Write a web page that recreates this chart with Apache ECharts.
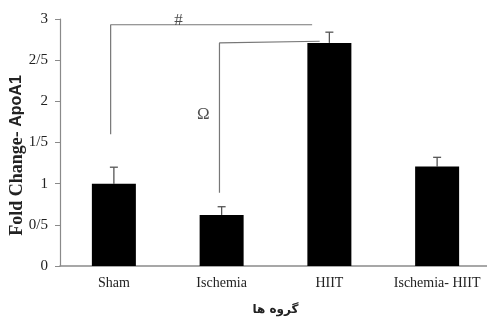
<!DOCTYPE html>
<html><head><meta charset="utf-8">
<script src="https://cdn.jsdelivr.net/npm/echarts@6/dist/echarts.min.js"></script>
<style>html,body{margin:0;padding:0;background:#fff}#c{width:487px;height:317px}</style>
</head><body><div id="c"></div>
<script>
const categories = ['Sham', 'Ischemia', 'HIIT', 'Ischemia- HIIT'];
const values = [1.0, 0.62, 2.71, 1.21];
const errors = [0.2, 0.1, 0.13, 0.11];
const yTickLabels = {0: '0', 0.5: '0/5', 1: '1', 1.5: '1/5', 2: '2', 2.5: '2/5', 3: '3'};
// significance brackets in (category position, value) space
const bracketHash = [[-0.03, 1.6], [-0.03, 2.93], [1.84, 2.93]];
const bracketOmega = [[0.98, 0.89], [0.98, 2.71], [1.91, 2.73]];
const marks = [{value: [0.6, 2.98], text: '#'}, {value: [0.83, 1.84], text: 'Ω'}];

const serif = "'Liberation Serif', 'DejaVu Serif', serif";
const chart = echarts.init(document.getElementById('c'), null, {renderer: 'canvas'});
const errData = values.map((v, i) => [i, v, v + errors[i]]);
chart.setOption({
  animation: false,
  grid: {left: 60, top: 19, width: 431, height: 247, outerBoundsMode: 'none', containLabel: false},
  xAxis: [{
    type: 'category', data: categories,
    axisLine: {lineStyle: {color: '#8a8a8a', width: 1.5}},
    axisTick: {show: false},
    axisLabel: {color: '#222', fontFamily: serif, fontSize: 14, margin: 10, interval: 0},
    name: 'گروه ها', nameLocation: 'middle', nameGap: 38, nameMoveOverlap: false,
    nameTextStyle: {color: '#222', fontFamily: "'DejaVu Sans', sans-serif", fontWeight: 'bold', fontSize: 12}
  }, {
    type: 'value', min: -0.5, max: 3.5, show: false
  }],
  yAxis: {
    type: 'value', min: 0, max: 3, interval: 0.5,
    splitLine: {show: false},
    axisLine: {show: true, onZero: false, lineStyle: {color: '#8a8a8a', width: 1.2}},
    axisTick: {show: true, length: 5, lineStyle: {color: '#8a8a8a'}},
    axisLabel: {color: '#222', fontFamily: serif, fontSize: 15, margin: 12,
      formatter: v => yTickLabels[v] !== undefined ? yTickLabels[v] : ''},
    name: '{a|Fold Change- }{b|ApoA1}', nameLocation: 'middle', nameGap: 34, nameMoveOverlap: false,
    nameTextStyle: {padding: [0, 26, 0, 0], rich: {
      a: {fontFamily: serif, fontWeight: 'bold', fontSize: 18, color: '#222'},
      b: {fontFamily: "'Liberation Sans', Arial, sans-serif", fontWeight: 'bold', fontSize: 16, color: '#222'}
    }}
  },
  series: [{
    type: 'bar', data: values, barWidth: 44,
    itemStyle: {color: '#000'}
  }, {
    type: 'custom', data: errData, z: 1,
    renderItem: (params, api) => {
      const x = api.value(0), lo = api.coord([x, api.value(1)]), hi = api.coord([x, api.value(2)]);
      return {type: 'group', children: [
        {type: 'line', shape: {x1: lo[0], y1: lo[1], x2: hi[0], y2: hi[1]}, style: {stroke: '#555', lineWidth: 1.3}},
        {type: 'line', shape: {x1: hi[0] - 4, y1: hi[1], x2: hi[0] + 4, y2: hi[1]}, style: {stroke: '#555', lineWidth: 1.3}}
      ]};
    }
  }, {
    type: 'line', xAxisIndex: 1, data: bracketHash, symbol: 'none', clip: false,
    lineStyle: {color: '#777', width: 1.2}, z: 0
  }, {
    type: 'line', xAxisIndex: 1, data: bracketOmega, symbol: 'none', clip: false,
    lineStyle: {color: '#777', width: 1.2}, z: 0
  }, {
    type: 'scatter', xAxisIndex: 1, symbolSize: 1, clip: false,
    itemStyle: {color: 'transparent'},
    data: marks.map(m => ({value: m.value, name: m.text})),
    label: {show: true, position: 'inside', formatter: p => p.name,
      color: '#222', fontFamily: serif, fontSize: 17}
  }]
});
</script></body></html>
